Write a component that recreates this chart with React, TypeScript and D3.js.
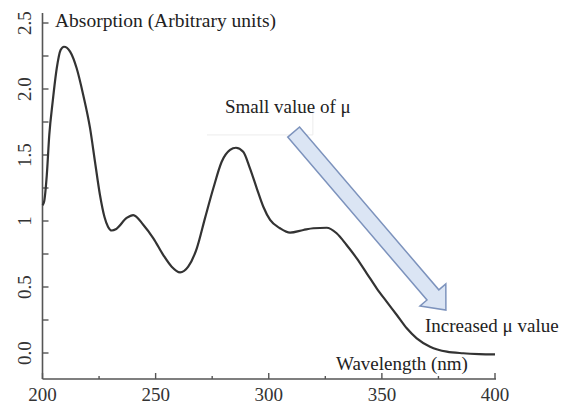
import React from "react";
import * as d3 from "d3";

// Spectrum
const wavelengths = [200, 200.7, 201.9, 203.0, 204.5, 206.3, 208.0, 209.5, 212.2, 215.1, 218.0, 221.0, 223.2, 225.4, 227.4, 229.0, 230.6, 232.6, 237.2, 240.1, 244.6, 249.0, 253.4, 257.1, 260.8, 264.4, 268.2, 271.8, 275.5, 279.2, 282.9, 285.5, 288.7, 291.7, 294.7, 297.6, 300.6, 305.0, 309.4, 315.3, 319.7, 325.6, 330.0, 334.4, 338.9, 343.3, 347.7, 352.1, 356.6, 361.0, 365.4, 371.3, 378.7, 386.0, 393.0, 400];
const absorption = [1.12, 1.146, 1.348, 1.652, 1.904, 2.157, 2.295, 2.32, 2.283, 2.157, 1.955, 1.705, 1.449, 1.197, 1.03, 0.955, 0.928, 0.94, 1.023, 1.045, 0.97, 0.869, 0.742, 0.654, 0.611, 0.654, 0.793, 1.02, 1.248, 1.449, 1.538, 1.555, 1.525, 1.399, 1.248, 1.108, 1.008, 0.945, 0.912, 0.932, 0.945, 0.949, 0.907, 0.818, 0.717, 0.604, 0.49, 0.389, 0.288, 0.187, 0.111, 0.048, 0.01, -0.002, -0.008, -0.011];

const xMajorTicks = [200, 250, 300, 350, 400];
const xMinorTicks = [225, 275, 325, 375];
const yTicks = [0, 0.25, 0.5, 0.75, 1, 1.25, 1.5, 1.75, 2, 2.25, 2.5];
const yTickLabels = [
  { v: 0, t: "0.0" },
  { v: 0.5, t: "0.5" },
  { v: 1, t: "1" },
  { v: 1.5, t: "1.5" },
  { v: 2, t: "2.0" },
  { v: 2.5, t: "2.5" },
];

// Annotation anchors in data coordinates
const arrowStart = [311, 1.674];
const arrowTip = [378.3, 0.325];
const yAxisTitle = "Absorption (Arbitrary units)";
const xAxisTitle = "Wavelength (nm)";
const smallLabel = "Small value of μ";
const largeLabel = "Increased μ value";

const W = 561;
const H = 405;

export default function App() {
  const x = d3.scaleLinear().domain([200, 400]).range([42.5, 495]);
  const y = d3.scaleLinear().domain([0, 2.5]).range([353, 23]);
  const axisX = x(200);
  const axisY = 379;
  const axisTop = 13;

  const pts: [number, number][] = wavelengths.map((w, i) => [w, absorption[i]]);
  const line = d3
    .line<[number, number]>()
    .x((d) => x(d[0]))
    .y((d) => y(d[1]))
    .curve(d3.curveMonotoneX);

  // block arrow
  const sx = x(arrowStart[0]);
  const sy = y(arrowStart[1]);
  const tx = x(arrowTip[0]);
  const ty = y(arrowTip[1]);
  const dx = tx - sx;
  const dy = ty - sy;
  const len = Math.hypot(dx, dy);
  const ux = dx / len;
  const uy = dy / len;
  const px = -uy;
  const py = ux;
  const shaftHW = 7.8;
  const headHW = 17;
  const headLen = 20;
  const bx = tx - ux * headLen;
  const by = ty - uy * headLen;
  const arrowPts = [
    [sx + px * shaftHW, sy + py * shaftHW],
    [bx + px * shaftHW, by + py * shaftHW],
    [bx + px * headHW, by + py * headHW],
    [tx, ty],
    [bx - px * headHW, by - py * headHW],
    [bx - px * shaftHW, by - py * shaftHW],
    [sx - px * shaftHW, sy - py * shaftHW],
  ];
  const arrowPath = "M" + arrowPts.map((p) => p.join(",")).join("L") + "Z";

  const font = "'Liberation Serif', 'Times New Roman', serif";

  return (
    <svg
      width={W}
      height={H}
      style={{ position: "absolute", left: 0, top: 0, background: "#fff" }}
      fontFamily={font}
    >
      <rect width={W} height={H} fill="#fff" />
      {/* faint text-box remnants */}
      <line x1={x(272.7)} x2={x(319.5)} y1={y(1.652)} y2={y(1.652)} stroke="#ececec" strokeWidth={1} />
      <line x1={x(319.5)} x2={x(319.5)} y1={y(1.9)} y2={y(1.652)} stroke="#ececec" strokeWidth={1} />

      {/* axes */}
      <line x1={axisX} x2={axisX} y1={axisTop} y2={axisY} stroke="#555" strokeWidth={1.6} />
      <line x1={axisX} x2={x(400) + 1} y1={axisY} y2={axisY} stroke="#555" strokeWidth={1.6} />
      {yTicks.map((v) => (
        <line key={"yt" + v} x1={axisX} x2={axisX + 6} y1={y(v)} y2={y(v)} stroke="#555" strokeWidth={1.4} />
      ))}
      {xMajorTicks.map((v) => (
        <line key={"xt" + v} x1={x(v)} x2={x(v)} y1={axisY} y2={axisY - 6} stroke="#555" strokeWidth={1.4} />
      ))}
      {xMinorTicks.map((v) => (
        <line key={"xm" + v} x1={x(v)} x2={x(v)} y1={axisY} y2={axisY - 3} stroke="#555" strokeWidth={1.4} />
      ))}
      {xMajorTicks.map((v) => (
        <text key={"xl" + v} x={x(v)} y={401} textAnchor="middle" fontSize={19} fill="#333">
          {v}
        </text>
      ))}
      {yTickLabels.map((d) => (
        <text
          key={"yl" + d.v}
          transform={`translate(31,${y(d.v)}) rotate(-90)`}
          textAnchor="middle"
          fontSize={19}
          fill="#333"
        >
          {d.t}
        </text>
      ))}

      {/* curve */}
      <path d={line(pts) || ""} fill="none" stroke="#333" strokeWidth={2.2} strokeLinejoin="round" />

      {/* arrow */}
      <path d={arrowPath} fill="#dbe5f4" stroke="#7d93bd" strokeWidth={1.5} strokeLinejoin="miter" />

      {/* labels */}
      <text x={55} y={27} fontSize={19.5} fill="#222">
        {yAxisTitle}
      </text>
      <text x={336} y={370} fontSize={19} fill="#222">
        {xAxisTitle}
      </text>
      <text x={225} y={113} fontSize={19} fill="#222">
        {smallLabel}
      </text>
      <text x={425} y={332} fontSize={19} fill="#222">
        {largeLabel}
      </text>
    </svg>
  );
}
